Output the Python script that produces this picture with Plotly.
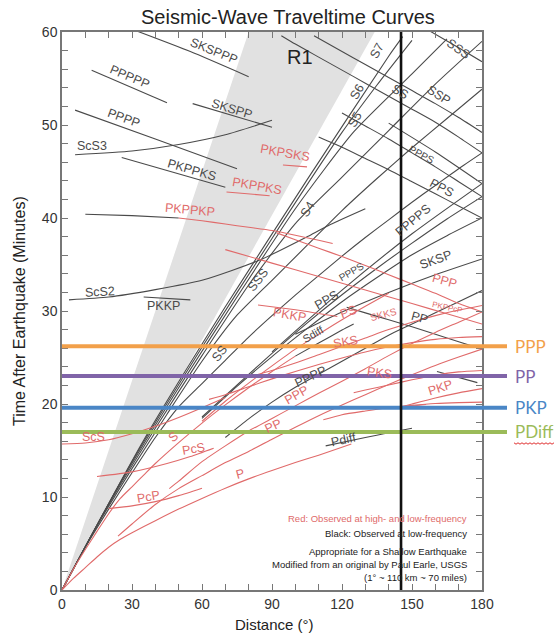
import plotly.graph_objects as go

RED = '#e06a6a'
BLK = '#4a4a4a'

# ---------------- data (distance in degrees, time in minutes) ----------------
R1_region = [(0, 0), (80, 60), (134, 60)]

P_red = [(0, 0), (5, 1.27), (10, 2.4), (15, 3.55), (20, 4.6), (25, 5.45), (30, 6.15), (40, 7.45), (50, 8.7),
         (60, 9.85), (70, 10.95), (80, 11.95), (90, 12.85), (100, 13.7), (110, 14.5), (124, 15.7)]
Pdiff_blk = [(113, 15.5), (130, 16.4), (140, 16.9), (150, 17.4)]
PP_red = [(24, 5.8), (30, 7.1), (40, 9.2), (50, 10.9), (60, 12.3), (70, 13.7), (80, 14.9), (90, 16.2),
          (100, 17.5), (110, 18.75), (120, 19.9), (130, 21.0), (140, 22.1), (150, 23.15), (160, 24.15),
          (170, 25.05), (180, 25.9)]
PP_blk_major = [(180, 25.9), (170, 26.7), (160, 27.5), (150, 28.3), (140, 29.05), (130, 29.8), (122, 30.4)]
PPP_red = [(46, 10.9), (50, 11.7), (60, 13.8), (70, 15.5), (80, 17.1), (90, 18.45), (100, 19.8), (110, 21.15),
           (120, 22.45), (130, 23.8), (140, 25.2), (150, 26.5), (160, 27.7), (170, 28.8), (180, 29.9)]
PPP_red_major = [(180, 29.9), (170, 30.8), (160, 31.9), (150, 32.9), (140, 33.9), (130, 34.9), (120, 35.85),
                 (110, 36.75), (100, 37.65), (92, 38.4)]
PcP_red = [(20, 8.75), (30, 9.05), (40, 9.5), (50, 10.15), (60, 10.95)]
PcS_red = [(15, 12.2), (30, 12.7), (45, 13.6), (55, 14.35), (65, 15.25)]
ScS_red = [(0, 15.7), (10, 15.8), (20, 16.15), (30, 16.8), (40, 17.6), (50, 18.55), (60, 19.6), (70, 20.7)]
S_red = [(0, 0), (5, 2.3), (10, 4.35), (15, 6.3), (20, 8.2), (25, 9.85), (30, 11.1), (35, 12.35), (40, 13.6),
         (50, 15.85), (60, 17.95), (70, 19.9), (80, 21.75), (90, 23.5), (100, 25.15)]
Sdiff_blk = [(100, 25.15), (110, 26.55), (120, 27.95), (125, 28.6)]
SKS_red = [(63, 20.5), (70, 21.0), (80, 21.85), (90, 22.7), (100, 23.5), (110, 24.25), (120, 24.95), (130, 25.6),
           (140, 26.15), (150, 26.6), (160, 26.95), (170, 27.15), (180, 27.25)]
SKKS_red = [(80, 22.9), (90, 23.6), (100, 24.4), (110, 25.3), (120, 26.2), (130, 27.1), (140, 28.0), (150, 28.8),
            (160, 29.5), (170, 30.1), (180, 30.6)]
PS_red = [(60, 18.15), (70, 20.3), (80, 22.25), (90, 24.1), (100, 25.9), (110, 27.5), (120, 29.05), (130, 30.5),
          (140, 31.9)]
PKS_red = [(125, 21.2), (130, 21.5), (140, 22.05), (150, 22.6), (160, 23.1), (170, 23.45), (180, 23.6)]
PKPdf_red = [(112, 18.3), (120, 18.85), (130, 19.25), (140, 19.6), (150, 19.85), (160, 20.05), (170, 20.15),
             (180, 20.2)]
PKPab_red = [(144, 19.6), (150, 20.0), (160, 20.65), (170, 21.2), (180, 21.65)]
PKPbc_red = [(144, 19.6), (150, 19.8), (156, 19.95)]
PKP_blk_major = [(160.7, 23.5), (178, 22.3)]
PKKP_red = [(84, 30.65), (95, 30.3), (105, 29.95), (118, 29.4)]
PKKP_blk = [(35, 31.5), (55, 31.2)]
PKPPKP_blk = [(10, 40.4), (30, 40.25), (50, 40.0)]
PKPPKP_red = [(50, 40.0), (60, 39.7), (70, 39.35), (80, 39.0), (90, 38.65), (100, 38.15), (110, 37.6), (116, 37.25)]
PKPPcP_red = [(70, 36.6), (90, 35.15), (110, 33.7), (130, 32.25), (150, 30.8), (165, 29.7), (180, 28.6)]
PKPPKS_blk = [(25.6, 46.5), (45, 45.1), (70, 43.3)]
PKPPKS_red = [(70.5, 42.8), (89, 42.4)]
PKPSKS_red = [(94.7, 45.7), (105, 45.5)]
SKSPPP_blk = [(30, 60.3), (55, 57.9), (80, 55.2)]
PPPPP_blk = [(12.7, 55.9), (45, 52.4)]
SKSPP_blk = [(56, 52.3), (90, 49.75)]
PPPP_blk_major = [(5.6, 51.6), (40, 48.5), (75, 45.3)]
ScS3_blk = [(5.6, 46.8), (30, 47.2), (50, 47.9), (70, 48.95), (90, 50.5)]
ScS2_blk = [(3, 31.2), (20, 31.5), (40, 32.3), (60, 33.3), (85, 35.5), (106, 38.1), (115, 39.3), (130, 41.0)]
SS_blk = [(0, 0), (10, 4.6), (20, 8.7), (30, 12.6), (40, 16.4), (50, 19.7), (60, 22.2), (70, 24.7), (80, 27.2),
          (90, 29.5), (100, 31.7), (110, 33.8), (120, 35.9), (130, 37.9), (140, 39.8), (150, 41.7), (160, 43.5),
          (170, 45.3), (180, 47.0)]
SS_blk_major = [(180, 47.0), (170, 48.7), (160, 50.3), (150, 51.7), (140, 53.1), (130, 54.5), (120, 55.9),
                (110, 57.3), (100, 58.7), (94, 59.6)]
SSS_blk = [(0, 0), (15, 6.9), (30, 13.05), (45, 18.9), (60, 24.6), (75, 29.55), (90, 33.3), (105, 37.05),
           (120, 40.8), (135, 44.25), (150, 47.55), (165, 50.7), (180, 53.85)]
SSS_blk_major = [(180, 56.8), (170, 58.3), (157, 60.2)]
S4_blk = [(0, 0), (20, 9.2), (40, 17.4), (60, 25.2), (80, 32.8), (100, 39.4), (120, 44.4), (140, 49.4),
          (160, 54.4), (180, 59.0)]
S5_blk = [(0, 0), (25, 11.5), (50, 21.75), (75, 31.5), (100, 41.0), (125, 49.25), (150, 55.5), (165, 59.25)]
S6_blk = [(0, 0), (30, 13.8), (60, 26.1), (90, 37.8), (120, 49.2), (135, 54.3), (150, 59.1)]
S7_blk = [(0, 0), (35, 16.1), (70, 30.45), (105, 44.1), (140, 57.4), (146, 59.5)]
SSP_blk_major = [(180, 49.2), (170, 50.8), (160, 52.3), (150, 53.7), (140, 55.1), (130, 56.5), (120, 57.9),
                 (108, 59.6)]
PPS_blk = [(60, 18.45), (75, 21.9), (90, 25.1), (105, 28.1), (120, 31.0), (135, 33.6), (150, 36.05), (165, 38.1),
           (180, 40.0)]
PPS_blk_major = [(180, 40.0), (170, 41.3), (160, 42.6), (150, 43.9), (140, 45.2), (130, 46.4), (120, 47.6),
                 (110, 48.7)]
PPPS_blk = [(60, 18.6), (90, 25.45), (105, 28.7), (120, 31.75), (135, 34.6), (150, 37.3), (165, 39.9), (180, 42.3)]
PPPS_blk_major = [(180, 42.3), (170, 43.9), (160, 45.5), (150, 47.0), (140, 48.5), (130, 49.9), (120, 51.3)]
PPPPS_blk = [(90, 25.6), (120, 32.25), (150, 38.3), (180, 43.7)]
PPPPS_blk_major = [(180, 43.7), (160, 47.1), (140, 50.2)]
PPPP_blk = [(70, 16.4), (80, 18.4), (90, 20.2), (100, 21.8), (110, 23.2), (120, 24.6),
            (130, 26.0), (140, 27.4), (150, 28.6), (160, 29.8), (170, 31.0), (180, 32.2)]
SKSP_blk = [(100, 27.5), (120, 29.9), (140, 32.0), (160, 33.9), (180, 35.6)]

# reference lines added on top of the chart
REF_NAMES = ['PPP', 'PP', 'PKP', 'PDiff']
REF_TIMES = [26.2, 23.0, 19.6, 17.0]
REF_COLORS = ['#f2a04a', '#8064a8', '#4a86c6', '#9bbb59']
MARK_DISTANCE = 145.3

LABELS = [
    ("SKSPPP", 65, 58.0, 22, BLK), ("PPPPP", 29, 55.2, 23, BLK), ("SKSPP", 72.7, 51.7, 17, BLK),
    ("PPPP", 26.3, 50.7, 20, BLK), ("ScS3", 12.7, 47.7, 0, BLK), ("PKPPKS", 55.6, 45.2, 16, BLK),
    ("PKPPKS", 83.4, 43.4, 10, RED), ("PKPSKS", 95.6, 47.0, 10, RED), ("PKPPKP", 54.9, 40.9, 5, RED),
    ("ScS2", 16.3, 32.0, -3, BLK), ("PKKP", 43.4, 30.5, 0, BLK), ("SSS", 84.1, 33.3, -52, BLK),
    ("SS", 67.7, 25.5, -52, BLK), ("S4", 105, 40.9, -58, BLK), ("S5", 125.6, 50.5, -60, BLK),
    ("S6", 126.3, 53.6, -60, BLK), ("S7", 134.9, 58.0, -60, BLK), ("SSS", 169.9, 58.2, 35, BLK),
    ("SS", 144.9, 53.6, 30, BLK), ("SSP", 161.3, 53.2, 33, BLK), ("PPPS", 154, 46.8, 28, BLK),
    ("PPS", 162.7, 43.2, 28, BLK), ("PPPPS", 150.6, 39.8, -40, BLK), ("SKSP", 160, 35.5, -20, BLK),
    ("PPPS", 124.2, 34.2, -30, BLK), ("PPS", 113.4, 31.2, -30, BLK), ("PP", 153.4, 29.2, 15, BLK),
    ("Sdiff", 107.7, 27.5, -30, BLK), ("PPPP", 106.3, 22.9, -25, BLK), ("Pdiff", 120.6, 16.1, -12, BLK),
    ("PKKP", 97.7, 29.6, 10, RED), ("PS", 122.7, 29.9, -20, RED), ("SKKS", 137.7, 29.6, -15, RED),
    ("SKS", 121.3, 26.7, -10, RED), ("PPP", 164, 33.2, 15, RED), ("PKPPcP", 165, 30.4, 12, RED),
    ("PKS", 136, 23.3, 8, RED), ("PKP", 162, 21.7, -18, RED), ("PPP", 100.6, 21.0, -30, RED),
    ("PP", 90.6, 17.6, -25, RED), ("P", 76.3, 12.5, -15, RED), ("PcP", 37, 10.0, -10, RED),
    ("PcS", 56.3, 15.2, -10, RED), ("S", 47.7, 16.5, -40, RED), ("ScS", 13.4, 16.5, 0, RED),
]
SMALL_LABELS = {"PPPS": 10, "PKPPcP": 8, "SKKS": 10, "Sdiff": 11}

NOTES = [("Red: Observed at high- and low-frequency", RED),
         ("Black: Observed at low-frequency", '#222'),
         ("Appropriate for a Shallow Earthquake", '#222'),
         ("Modified from an original by Paul Earle, USGS", '#222'),
         ("(1° ~ 110 km ~ 70 miles)", '#222')]

CURVES = [
    (SS_blk, BLK), (SSS_blk, BLK), (S4_blk, BLK), (S5_blk, BLK), (S6_blk, BLK), (S7_blk, BLK),
    (SS_blk_major, BLK), (SSS_blk_major, BLK), (SSP_blk_major, BLK), (PPS_blk, BLK), (PPS_blk_major, BLK),
    (PPPS_blk, BLK), (PPPS_blk_major, BLK), (PPPPS_blk, BLK), (PPPPS_blk_major, BLK), (PPPP_blk, BLK),
    (SKSP_blk, BLK), (PP_blk_major, BLK), (Pdiff_blk, BLK), (Sdiff_blk, BLK), (PKP_blk_major, BLK),
    (PKKP_blk, BLK), (PKPPKP_blk, BLK), (PKPPKS_blk, BLK), (SKSPPP_blk, BLK), (PPPPP_blk, BLK),
    (SKSPP_blk, BLK), (PPPP_blk_major, BLK), (ScS3_blk, BLK), (ScS2_blk, BLK),
    (P_red, RED), (PP_red, RED), (PPP_red, RED), (PPP_red_major, RED), (PcP_red, RED), (PcS_red, RED),
    (ScS_red, RED), (S_red, RED), (SKS_red, RED), (SKKS_red, RED), (PS_red, RED), (PKS_red, RED),
    (PKPdf_red, RED), (PKPab_red, RED), (PKPbc_red, RED), (PKKP_red, RED), (PKPPKP_red, RED),
    (PKPPcP_red, RED), (PKPPKS_red, RED), (PKPSKS_red, RED),
]

# ---------------- figure ----------------
FONT = "Liberation Sans, Arial, sans-serif"
fig = go.Figure()

fig.add_trace(go.Scatter(x=[p[0] for p in R1_region], y=[p[1] for p in R1_region], fill='toself',
                         fillcolor='#e1e1e1', line=dict(width=0), mode='lines', hoverinfo='skip',
                         showlegend=False))
for pts, col in CURVES:
    fig.add_trace(go.Scatter(x=[p[0] for p in pts], y=[p[1] for p in pts], mode='lines',
                             line=dict(color=col, width=1.1, shape='spline', smoothing=0.6),
                             hoverinfo='skip', showlegend=False))

L, R, T, B = 62, 76, 32, 50
W, H = 558, 640
pw, ph = W - L - R, H - T - B


def px2paper(px, py):
    return (px - L) / pw, (H - B - py) / ph


annotations = []
for text, xd, yt, ang, col in LABELS:
    annotations.append(dict(x=xd, y=yt, xref='x', yref='y', text=text, showarrow=False, textangle=ang,
                            xanchor='center', yanchor='middle',
                            font=dict(family=FONT, size=SMALL_LABELS.get(text, 12.5), color=col)))

annotations.append(dict(x=102, y=57.3, xref='x', yref='y', text='R1', showarrow=False,
                        xanchor='center', yanchor='middle',
                        font=dict(family=FONT, size=20, color='#222')))

x_end, _ = px2paper(507, 0)
shapes = []
for name, t, col in zip(REF_NAMES, REF_TIMES, REF_COLORS):
    shapes.append(dict(type='line', xref='paper', yref='y', x0=0, x1=x_end, y0=t, y1=t,
                       line=dict(color=col, width=4), layer='above'))
    annotations.append(dict(x=px2paper(513, 0)[0], y=t, xref='paper', yref='y', text=name, showarrow=False,
                            xanchor='left', yanchor='middle',
                            font=dict(family="Lato, Open Sans, sans-serif", size=17, color=col)))

shapes.append(dict(type='line', xref='x', yref='paper', x0=MARK_DISTANCE, x1=MARK_DISTANCE, y0=0, y1=1,
                   line=dict(color='#111', width=2.6), layer='above'))

# squiggly underline under "PDiff"
sq = []
for i in range(21):
    xx = 514 + i * 2
    yy = 443 + (1.2 if i % 2 else -0.2)
    a, b = px2paper(xx, yy)
    sq.append(("M" if i == 0 else "L") + f" {a:.4f} {b:.4f}")
shapes.append(dict(type='path', xref='paper', yref='paper', path=" ".join(sq),
                   line=dict(color='#e03030', width=1)))

note_y = [518.5, 533, 551, 564, 577]
for (txt, col), py in zip(NOTES, note_y):
    xa, ya = px2paper(468.5, py)
    annotations.append(dict(x=xa, y=ya, xref='paper', yref='paper', text=txt, showarrow=False,
                            xanchor='right', yanchor='middle', font=dict(family=FONT, size=9.5, color=col)))

tx, ty = px2paper(288, 17)
annotations.append(dict(x=tx, y=ty, xref='paper', yref='paper', text='Seismic-Wave Traveltime Curves',
                        showarrow=False, xanchor='center', yanchor='middle',
                        font=dict(family=FONT, size=20, color='#222')))
ax, ay = px2paper(19, 311)
annotations.append(dict(x=ax, y=ay, xref='paper', yref='paper', text='Time After Earthquake (Minutes)',
                        showarrow=False, textangle=-90, xanchor='center', yanchor='middle',
                        font=dict(family=FONT, size=16, color='#222')))
bx, by = px2paper(274, 624)
annotations.append(dict(x=bx, y=by, xref='paper', yref='paper', text='Distance (°)', showarrow=False,
                        xanchor='center', yanchor='middle',
                        font=dict(family=FONT, size=15, color='#222')))

xt = list(range(0, 181, 10))
yt_ = list(range(0, 61, 2))
fig.update_layout(
    width=W, height=H, margin=dict(l=L, r=R, t=T, b=B, autoexpand=False), paper_bgcolor='white',
    plot_bgcolor='white', showlegend=False, annotations=annotations, shapes=shapes,
    xaxis=dict(range=[0, 180], tickvals=xt, ticktext=[str(v) if v % 30 == 0 else '' for v in xt],
               ticks='inside', ticklen=6, tickcolor='#777', showline=True, linecolor='#777', linewidth=1.5,
               mirror='ticks', showgrid=False, zeroline=False, fixedrange=True,
               tickfont=dict(family=FONT, size=14, color='#333')),
    yaxis=dict(range=[0, 60], tickvals=yt_, ticktext=[str(v) if v % 10 == 0 else '' for v in yt_],
               ticks='inside', ticklen=6, tickcolor='#777', showline=True, linecolor='#777', linewidth=1.5,
               mirror='ticks', showgrid=False, zeroline=False, fixedrange=True,
               tickfont=dict(family=FONT, size=14, color='#333')),
)
fig.write_html("out.html", config={'displayModeBar': False},
               post_script="document.body.style.margin='0px';document.body.style.overflow='hidden';")
